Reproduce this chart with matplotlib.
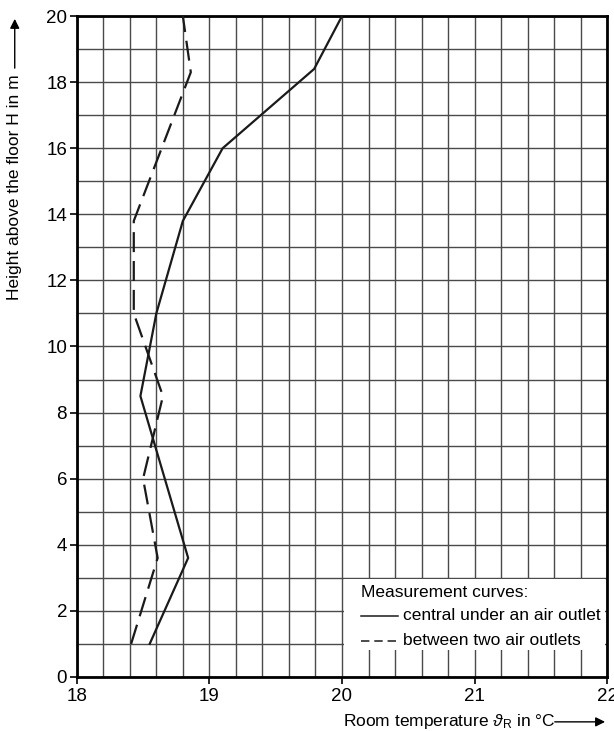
import numpy as np
import matplotlib
matplotlib.use("Agg")
import matplotlib.pyplot as plt
from matplotlib.patches import Rectangle

plt.rcParams['font.family'] = ['Liberation Sans', 'DejaVu Sans']
plt.rcParams['mathtext.fontset'] = 'custom'
plt.rcParams['mathtext.rm'] = 'Liberation Sans'
plt.rcParams['mathtext.it'] = 'Liberation Sans:italic'

# curve 1: central under an air outlet
temp_central = [18.55, 18.84, 18.48, 18.60, 18.80, 19.10, 19.79, 20.00]
height_central = [1.0, 3.6, 8.5, 11.0, 13.8, 16.0, 18.4, 20.0]

# curve 2: between two air outlets
temp_between = [18.41, 18.61, 18.50, 18.65, 18.43, 18.43, 18.86, 18.80]
height_between = [1.0, 3.6, 6.0, 8.5, 11.0, 13.8, 18.3, 20.0]

x_ticks = [18, 19, 20, 21, 22]
y_ticks = list(range(0, 21, 2))

fig = plt.figure(figsize=(6.14, 7.31), dpi=100)
ax = fig.add_axes([0.125, 0.074, 0.864, 0.904])

ax.set_xlim(18, 22)
ax.set_ylim(0, 20)
ax.set_xticks(x_ticks)
ax.set_yticks(y_ticks)
ax.set_xticks(np.arange(18, 22.01, 0.2), minor=True)
ax.set_yticks(np.arange(0, 20.01, 1), minor=True)
ax.tick_params(which='major', direction='out', length=5, width=1.2, labelsize=13.5, pad=2)
ax.tick_params(axis='x', which='major', pad=3)
ax.tick_params(which='minor', length=0)
ax.set_axisbelow(True)
ax.grid(which='both', color='#4a4a4a', lw=1.0)

for s in ax.spines.values():
    s.set_linewidth(2)

# legend area without grid
ax.add_patch(Rectangle((20.015, 0.82), 1.97, 2.15, facecolor='white', edgecolor='none', zorder=1))

ax.plot(temp_central, height_central, color='#1a1a1a', lw=1.6, zorder=3)
ax.plot(temp_between, height_between, color='#1a1a1a', lw=1.6, dashes=(9, 4), zorder=3)

# legend text
ax.text(20.14, 2.56, 'Measurement curves:', fontsize=12.5, va='center', ha='left', zorder=4)
ax.plot([20.14, 20.42], [1.85, 1.85], color='#1a1a1a', lw=1.1, zorder=4)
ax.text(20.46, 1.85, 'central under an air outlet', fontsize=12.5, va='center', ha='left', zorder=4)
ax.plot([20.14, 20.42], [1.1, 1.1], color='#1a1a1a', lw=1.1, dashes=(5.5, 3.2), zorder=4)
ax.text(20.46, 1.1, 'between two air outlets', fontsize=12.5, va='center', ha='left', zorder=4)

# axis labels with arrows
fig.text(0.024, 0.744, 'Height above the floor H in m', rotation=90, fontsize=12.5, ha='center', va='center')
ax.annotate('', xy=(0.024, 0.978), xytext=(0.024, 0.903), xycoords='figure fraction',
            arrowprops=dict(arrowstyle='-|>', color='black', lw=1, mutation_scale=14))
fig.text(0.558, 0.007, r'Room temperature $\vartheta_\mathrm{R}$ in °C', fontsize=12.5, ha='left', va='baseline')
ax.annotate('', xy=(0.99, 0.0125), xytext=(0.899, 0.0125), xycoords='figure fraction',
            arrowprops=dict(arrowstyle='-|>', color='black', lw=1, mutation_scale=14))

fig.savefig('out.png', dpi=100)
